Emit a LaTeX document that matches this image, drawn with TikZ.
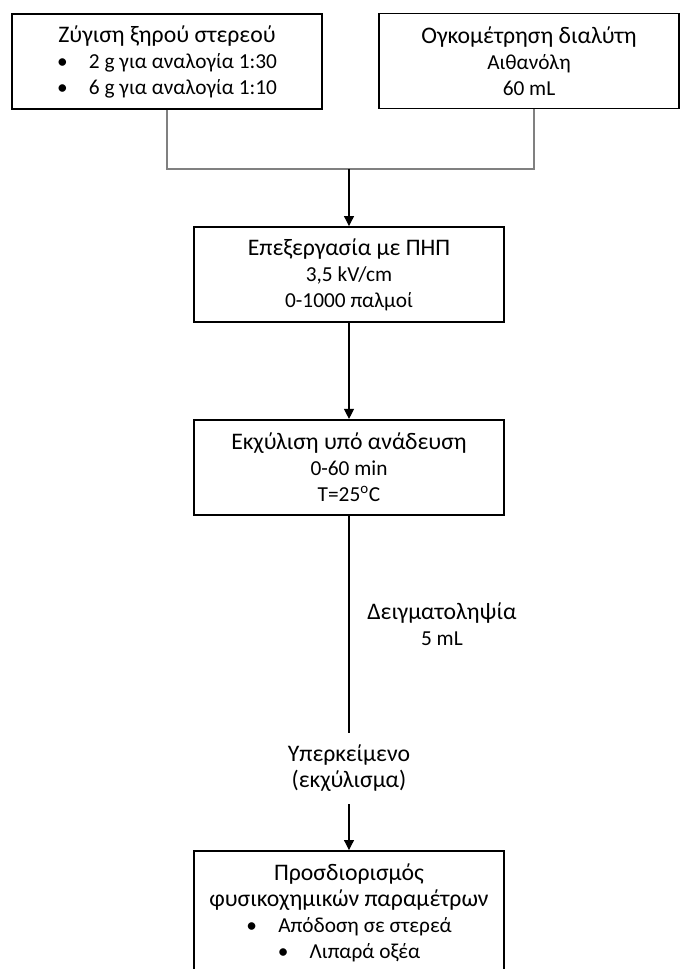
\documentclass[tikz,border=0pt]{standalone}
\usepackage{fontspec}
\setmainfont{Carlito}
\usetikzlibrary{arrows.meta,positioning}
\newcommand{\ttl}[1]{{\fontsize{17.8}{19.5}\selectfont #1}}

\begin{document}
\begin{tikzpicture}[
  x=0.75pt, y=-0.75pt,
  node distance=72pt,
  box/.style={draw, line width=1.4pt, align=center, inner sep=4pt,
    minimum width=232.5pt, minimum height=71.25pt,
    font=\fontsize{16}{19.5}\selectfont},
  note/.style={align=center, inner sep=9pt, font=\fontsize{16}{19.5}\selectfont},
  link/.style={draw=black!50, line width=1pt},
  line/.style={line width=0.8pt},
  arrow/.style={-{Triangle[width=7.5pt,length=7.5pt]}, line width=0.8pt}]
\useasboundingbox (0,0) rectangle (680,969);
\node[box] (weigh) at (167,61.5) {\ttl{Ζύγιση ξηρού στερεού}\\
  \textbullet\hspace{16pt}2 g για αναλογία 1:30\\
  \textbullet\hspace{16pt}6 g για αναλογία 1:10};
\node[box, minimum width=225pt] (solvent) at (529,61)
  {\ttl{Ογκομέτρηση διαλύτη}\\ Αιθανόλη\\ 60 mL};
\node[box] (pef) at (349,274.5) {\ttl{Επεξεργασία με ΠΗΠ}\\ 3,5 kV/cm\\
  0-1000 παλμοί};
\node[box, below=of pef] (extract) {\ttl{Εκχύλιση υπό ανάδευση}\\ 0-60 min\\
  T=25\textsuperscript{o}C};
\node[note, below=162.75pt of extract] (super) {\ttl{Υπερκείμενο}\\
  \ttl{(εκχύλισμα)}};
\node[box, below=34.5pt of super, minimum height=93pt] (analysis)
  {\ttl{Προσδιορισμός}\\ \ttl{φυσικοχημικών παραμέτρων}\\
  \textbullet\hspace{16pt}Απόδοση σε στερεά\\
  \textbullet\hspace{16pt}Λιπαρά οξέα};
\coordinate (merge) at (349,169);
\draw[link] (weigh.south) |- (merge) -| ([xshift=3.75pt]solvent.south);
\draw[arrow] (merge) -- (pef);
\draw[arrow] (pef) -- (extract);
\draw[line] (extract) -- node[pos=0.5, right=10pt, align=center,
  font=\fontsize{16}{19.5}\selectfont] (sample) {\ttl{Δειγματοληψία}\\ 5 mL}
  (super);
\draw[arrow] (super) -- (analysis);
\end{tikzpicture}
\end{document}
